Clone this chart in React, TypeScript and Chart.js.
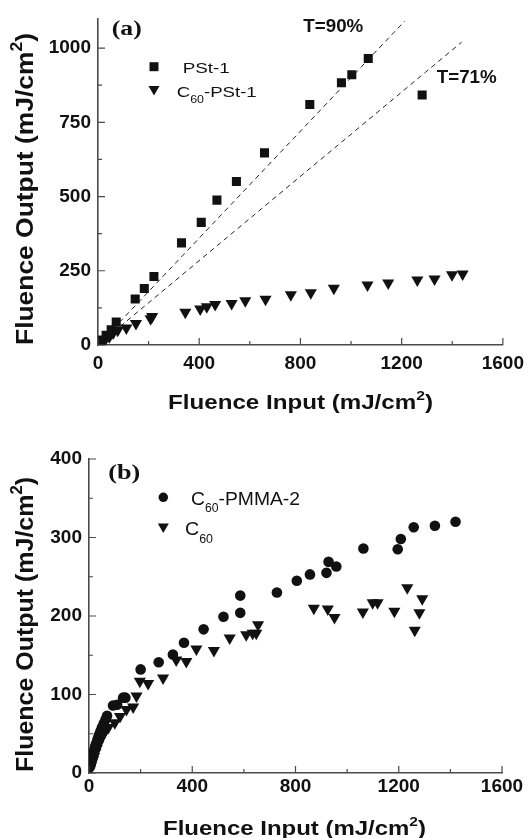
import React, { useEffect, useRef } from 'react';
import { Chart, registerables } from 'chart.js';

Chart.register(...registerables);

const SANS = "'Liberation Sans', Arial, Helvetica, sans-serif";
const SERIF = "'Liberation Serif', 'Times New Roman', serif";
const INK = '#111111';
const AXIS = '#4a4a4a';

// ---------- Panel (a) ----------
const aXTicks = [0, 400, 800, 1200, 1600];
const aYTicks = [0, 250, 500, 750, 1000];

const pstX = [6, 13, 32, 52, 72, 147, 183, 221, 330, 408, 470, 547, 658, 837, 962, 1003, 1068, 1281];
const pstY = [6, 17, 33, 51, 77, 155, 190, 231, 344, 413, 488, 551, 647, 810, 883, 910, 965, 842];

const c60PstX = [8, 25, 45, 60, 78, 112, 150, 208, 214, 345, 404, 430, 463, 528, 582, 662, 762, 841, 932, 1065, 1147, 1262, 1330, 1399, 1441];
const c60PstY = [6, 13, 28, 40, 50, 57, 72, 88, 96, 110, 121, 129, 136, 140, 149, 154, 169, 176, 191, 202, 209, 219, 222, 237, 239];

const t90X = [60, 1212];
const t90Y = [54, 1091];
const t71X = [60, 1437];
const t71Y = [43, 1020];

// ---------- Panel (b) ----------
const bXTicks = [0, 400, 800, 1200, 1600];
const bYTicks = [0, 100, 200, 300, 400];

const pmmaX = [4, 7, 10, 13, 16, 20, 24, 28, 33, 38, 44, 50, 57, 64, 70, 93, 109, 132, 141, 200, 270, 325, 368, 444, 521, 586, 586, 728, 805, 856, 920, 928, 958, 1063, 1196, 1208, 1258, 1340, 1420];
const pmmaY = [8, 12, 16, 20, 24, 29, 34, 38, 43, 48, 53, 58, 63, 68, 73, 86, 87, 96, 96, 132, 141, 151, 166, 183, 199, 204, 226, 230, 245, 253, 255, 269, 263, 286, 285, 298, 313, 315, 320];

const c60X = [4, 8, 12, 16, 20, 25, 30, 36, 42, 50, 60, 75, 100, 120, 145, 171, 184, 197, 229, 287, 338, 377, 416, 484, 545, 609, 634, 648, 655, 871, 925, 951, 1061, 1099, 1118, 1183, 1233, 1262, 1280, 1291];
const c60Y = [5, 9, 13, 17, 21, 26, 31, 36, 41, 46, 52, 58, 64, 72, 81, 84, 98, 117, 114, 121, 144, 142, 158, 156, 172, 176, 178, 178, 189, 210, 209, 198, 205, 217, 217, 206, 236, 182, 204, 222];

const pts = (xs: number[], ys: number[]) => xs.map((x, i) => ({ x, y: ys[i] }));

type Seg = { t: string; sub?: boolean; sup?: boolean };
type TextItem = {
  segs: Seg[];
  x: number;
  y: number;
  size: number;
  weight: string;
  family: string;
  align: 'left' | 'center';
  width?: number;
  rotate?: boolean;
};
type MarkerItem = { style: 'rect' | 'triangle' | 'circle'; x: number; y: number; s: number };

function drawText(ctx: CanvasRenderingContext2D, it: TextItem, offY: number) {
  ctx.save();
  const fontFor = (s: Seg) =>
    `${it.weight} ${s.sub || s.sup ? Math.round(it.size * 0.65) : it.size}px ${it.family}`;
  let natural = 0;
  const widths = it.segs.map((s) => {
    ctx.font = fontFor(s);
    const w = ctx.measureText(s.t).width;
    natural += w;
    return w;
  });
  const sx = it.width ? it.width / natural : 1;
  ctx.translate(it.x, it.y - offY);
  if (it.rotate) ctx.rotate(-Math.PI / 2);
  ctx.scale(sx, 1);
  let cx = it.align === 'center' ? -natural / 2 : 0;
  ctx.fillStyle = INK;
  ctx.textBaseline = 'alphabetic';
  ctx.textAlign = 'left';
  it.segs.forEach((s, i) => {
    ctx.font = fontFor(s);
    const dy = s.sub ? it.size * 0.42 : s.sup ? -it.size * 0.45 : 0;
    ctx.fillText(s.t, cx, dy);
    cx += widths[i];
  });
  ctx.restore();
}

function drawMarker(ctx: CanvasRenderingContext2D, m: MarkerItem, offY: number) {
  const y = m.y - offY;
  ctx.save();
  ctx.fillStyle = INK;
  ctx.beginPath();
  if (m.style === 'rect') {
    ctx.rect(m.x - m.s / 2, y - m.s / 2, m.s, m.s);
  } else if (m.style === 'circle') {
    ctx.arc(m.x, y, m.s / 2, 0, Math.PI * 2);
  } else {
    const h = m.s * 0.87;
    ctx.moveTo(m.x - m.s / 2, y - h / 2);
    ctx.lineTo(m.x + m.s / 2, y - h / 2);
    ctx.lineTo(m.x, y + h / 2);
    ctx.closePath();
  }
  ctx.fill();
  ctx.restore();
}

function makeDecor(texts: TextItem[], markers: MarkerItem[], offY: number) {
  return {
    id: 'decor',
    afterDraw(chart: any) {
      const { ctx, chartArea } = chart;
      const xs = chart.scales.x;
      const ys = chart.scales.y;
      const xMaj: number[] = xs.ticks.map((t: any) => t.value);
      const yMaj: number[] = ys.ticks.map((t: any) => t.value);
      const xMin = xMaj.slice(1).map((v, i) => (v + xMaj[i]) / 2);
      const yMin = yMaj.slice(1).map((v, i) => (v + yMaj[i]) / 2);
      ctx.save();
      ctx.strokeStyle = AXIS;
      ctx.lineWidth = 1.2;
      ctx.beginPath();
      xMaj.forEach((v) => {
        const p = xs.getPixelForValue(v);
        ctx.moveTo(p, chartArea.bottom);
        ctx.lineTo(p, chartArea.bottom - 7);
      });
      xMin.forEach((v) => {
        const p = xs.getPixelForValue(v);
        ctx.moveTo(p, chartArea.bottom);
        ctx.lineTo(p, chartArea.bottom - 4);
      });
      yMaj.forEach((v) => {
        const p = ys.getPixelForValue(v);
        ctx.moveTo(chartArea.left, p);
        ctx.lineTo(chartArea.left + 7, p);
      });
      yMin.forEach((v) => {
        const p = ys.getPixelForValue(v);
        ctx.moveTo(chartArea.left, p);
        ctx.lineTo(chartArea.left + 4, p);
      });
      ctx.stroke();
      ctx.restore();
      markers.forEach((m) => drawMarker(ctx, m, offY));
      texts.forEach((t) => drawText(ctx, t, offY));
    },
  };
}

const tickFont = { family: SANS, size: 19, weight: 'bold' as const };

function scaleOpts(
  min: number,
  max: number,
  ticks: number[],
  pad: number,
  size: number,
  horizontal: boolean
) {
  return {
    type: 'linear' as const,
    min,
    max,
    afterBuildTicks: (s: any) => {
      s.ticks = ticks.map((v) => ({ value: v }));
    },
    afterFit: (s: any) => {
      if (horizontal) s.height = size;
      else s.width = size;
    },
    ticks: {
      padding: pad,
      font: tickFont,
      color: INK,
      callback: (v: any) => String(v),
      maxRotation: 0,
      autoSkip: false,
    },
    grid: { display: false, drawTicks: false },
    border: { display: true, color: AXIS, width: 1.6 },
  };
}

const xTitle = (x: number, y: number, w: number): TextItem => ({
  segs: [{ t: 'Fluence Input (mJ/cm' }, { t: '2', sup: true }, { t: ')' }],
  x,
  y,
  size: 20,
  weight: 'bold',
  family: SANS,
  align: 'center',
  width: w,
});
const yTitle = (x: number, y: number, w: number): TextItem => ({
  segs: [{ t: 'Fluence Output (mJ/cm' }, { t: '2', sup: true }, { t: ')' }],
  x,
  y,
  size: 24,
  weight: 'bold',
  family: SANS,
  align: 'center',
  width: w,
  rotate: true,
});

const textsA: TextItem[] = [
  { segs: [{ t: '(a)' }], x: 111.7, y: 35, size: 20, weight: 'bold', family: SERIF, align: 'left', width: 30 },
  { segs: [{ t: 'T=90%' }], x: 303.3, y: 31.7, size: 19, weight: 'bold', family: SANS, align: 'left', width: 60 },
  { segs: [{ t: 'T=71%' }], x: 436.7, y: 83.3, size: 19, weight: 'bold', family: SANS, align: 'left', width: 60 },
  { segs: [{ t: 'PSt-1' }], x: 182.7, y: 72.7, size: 15, weight: 'normal', family: SANS, align: 'left', width: 47 },
  {
    segs: [{ t: 'C' }, { t: '60', sub: true }, { t: '-PSt-1' }],
    x: 176.7,
    y: 96.7,
    size: 15,
    weight: 'normal',
    family: SANS,
    align: 'left',
    width: 80,
  },
  xTitle(300.5, 409.3, 265),
  yTitle(33, 189, 312),
];
const markersA: MarkerItem[] = [
  { style: 'rect', x: 154, y: 66.7, s: 9 },
  { style: 'triangle', x: 154, y: 90.7, s: 11 },
];

const textsB: TextItem[] = [
  { segs: [{ t: '(b)' }], x: 108.3, y: 479.3, size: 20, weight: 'bold', family: SERIF, align: 'left', width: 32 },
  {
    segs: [{ t: 'C' }, { t: '60', sub: true }, { t: '-PMMA-2' }],
    x: 191,
    y: 504.5,
    size: 19,
    weight: 'normal',
    family: SANS,
    align: 'left',
    width: 109,
  },
  {
    segs: [{ t: 'C' }, { t: '60', sub: true }],
    x: 185,
    y: 535,
    size: 19,
    weight: 'normal',
    family: SANS,
    align: 'left',
    width: 28,
  },
  xTitle(294.5, 835, 263),
  yTitle(33, 624.5, 295),
];
const markersB: MarkerItem[] = [
  { style: 'circle', x: 163.3, y: 497.3, s: 9.5 },
  { style: 'triangle', x: 163.3, y: 528.3, s: 11 },
];

const H = 419;

export default function App() {
  const refA = useRef<HTMLCanvasElement>(null);
  const refB = useRef<HTMLCanvasElement>(null);

  useEffect(() => {
    const common = {
      responsive: false,
      animation: false as const,
      events: [] as any[],
      plugins: { legend: { display: false }, tooltip: { enabled: false } },
    };

    const chartA = new Chart(refA.current!, {
      type: 'scatter',
      data: {
        datasets: [
          {
            label: 'PSt-1',
            data: pts(pstX, pstY),
            pointStyle: 'rect',
            pointRadius: 6.4,
            pointBackgroundColor: INK,
            pointBorderWidth: 0,
            order: 1,
          },
          {
            label: 'C60-PSt-1',
            data: pts(c60PstX, c60PstY),
            pointStyle: 'triangle',
            pointRotation: 180,
            pointRadius: 7,
            pointBackgroundColor: INK,
            pointBorderWidth: 0,
            order: 1,
          },
          {
            type: 'line',
            label: 'T=90%',
            data: pts(t90X, t90Y),
            borderColor: '#222',
            borderWidth: 1,
            borderDash: [5, 4],
            pointRadius: 0,
            fill: false,
            order: 2,
          },
          {
            type: 'line',
            label: 'T=71%',
            data: pts(t71X, t71Y),
            borderColor: '#222',
            borderWidth: 1,
            borderDash: [5, 4],
            pointRadius: 0,
            fill: false,
            order: 2,
          },
        ] as any,
      },
      options: {
        ...common,
        layout: { padding: { top: 13, right: 24, left: 0, bottom: 0 } },
        scales: {
          x: scaleOpts(0, 1600, aXTicks, 7, 74, true),
          y: scaleOpts(0, 1100, aYTicks, 7, 98, false),
        },
      } as any,
      plugins: [makeDecor(textsA, markersA, 0)],
    });

    const chartB = new Chart(refB.current!, {
      type: 'scatter',
      data: {
        datasets: [
          {
            label: 'C60-PMMA-2',
            data: pts(pmmaX, pmmaY),
            pointStyle: 'circle',
            pointRadius: 5.3,
            pointBackgroundColor: INK,
            pointBorderWidth: 0,
          },
          {
            label: 'C60',
            data: pts(c60X, c60Y),
            pointStyle: 'triangle',
            pointRotation: 180,
            pointRadius: 7,
            pointBackgroundColor: INK,
            pointBorderWidth: 0,
          },
        ] as any,
      },
      options: {
        ...common,
        layout: { padding: { top: 40, right: 29, left: 0, bottom: 0 } },
        scales: {
          x: scaleOpts(0, 1600, bXTicks, 2, 65, true),
          y: scaleOpts(0, 400, bYTicks, 7, 89, false),
        },
      } as any,
      plugins: [makeDecor(textsB, markersB, H)],
    });

    return () => {
      chartA.destroy();
      chartB.destroy();
    };
  }, []);

  return (
    <div style={{ position: 'absolute', left: 0, top: 0, width: 531, height: 838, background: '#fff' }}>
      <canvas ref={refA} width={531} height={H} style={{ position: 'absolute', left: 0, top: 0 }} />
      <canvas ref={refB} width={531} height={H} style={{ position: 'absolute', left: 0, top: H }} />
    </div>
  );
}
